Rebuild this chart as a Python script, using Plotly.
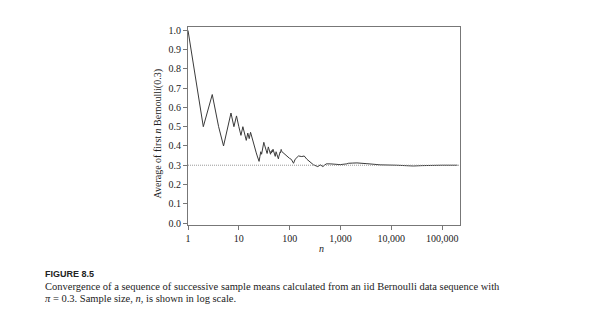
import plotly.graph_objects as go

# Running mean of Bernoulli(0.3) draws
n_values = list(range(1, 71)) + [
    79, 88, 99, 108, 115, 119, 128, 149, 173, 193, 218, 254, 294, 358, 400,
    450, 523, 625, 785, 985, 1330, 1430, 1700, 2100, 3300, 6000, 12600, 20000,
    27000, 40000, 57000, 100000, 200000]
mean_values = [
    1.000, 0.500, 0.667, 0.500, 0.400, 0.500, 0.571, 0.500, 0.556, 0.500,
    0.455, 0.500, 0.462, 0.429, 0.467, 0.438, 0.471, 0.444, 0.421, 0.400,
    0.381, 0.364, 0.348, 0.333, 0.320, 0.346, 0.370, 0.357, 0.379, 0.400,
    0.419, 0.406, 0.394, 0.382, 0.371, 0.361, 0.378, 0.395, 0.385, 0.375,
    0.366, 0.357, 0.372, 0.364, 0.378, 0.370, 0.383, 0.375, 0.367, 0.360,
    0.353, 0.346, 0.358, 0.370, 0.364, 0.357, 0.351, 0.345, 0.339, 0.333,
    0.344, 0.355, 0.349, 0.359, 0.369, 0.364, 0.373, 0.382, 0.377, 0.371,
    0.357, 0.345, 0.336, 0.330, 0.316, 0.310, 0.331, 0.348, 0.345, 0.348,
    0.331, 0.314, 0.302, 0.293, 0.302, 0.293, 0.307, 0.307, 0.305, 0.303,
    0.307, 0.310, 0.311, 0.312, 0.308, 0.302, 0.300, 0.297, 0.296, 0.298,
    0.300, 0.300, 0.300]
true_pi = 0.3

x_tickvals = [1, 10, 100, 1000, 10000, 100000]
x_ticktext = ["1", "10", "100", "1,000", "10,000", "100,000"]
y_tickvals = [i / 10 for i in range(11)]
y_ticktext = [f"{v:.1f}" for v in y_tickvals]

W, H = 599, 321
ML, MR, MT, MB = 188, 139, 27, 96
PW, PH = W - ML - MR, H - MT - MB

def px_x(x):
    return (x - ML) / PW

def px_y(y):
    return (H - MB - y) / PH

serif = "Liberation Serif, Times New Roman, serif"

fig = go.Figure()
fig.add_shape(type="line", xref="paper", yref="y", x0=0, x1=1,
              y0=true_pi, y1=true_pi,
              line=dict(color="#999999", width=1, dash="1px,1px"))
fig.add_trace(go.Scatter(x=n_values, y=mean_values, mode="lines",
                         line=dict(color="#3a3a3a", width=1),
                         showlegend=False, hoverinfo="skip"))

fig.update_layout(
    width=W, height=H,
    margin=dict(l=ML, r=MR, t=MT, b=MB),
    paper_bgcolor="white", plot_bgcolor="white",
    font=dict(family=serif, size=10, color="#222222"),
    xaxis=dict(type="log", range=[0, 5.35], tickvals=x_tickvals,
               ticktext=x_ticktext, showgrid=False, zeroline=False,
               showline=True, linecolor="#777777", linewidth=1, mirror=True,
               ticks="outside", ticklen=4, tickcolor="#777777",
               tickfont=dict(family=serif, size=10, color="#222222")),
    yaxis=dict(range=[-0.0104, 1.0177], tickvals=y_tickvals,
               ticktext=y_ticktext, showgrid=False, zeroline=False,
               showline=True, linecolor="#777777", linewidth=1, mirror=True,
               ticks="outside", ticklen=4, tickcolor="#777777",
               tickfont=dict(family=serif, size=10, color="#222222")),
)

annots = [
    dict(text="Average of first <i>n</i> Bernoulli(0.3)", x=px_x(157),
         y=px_y(133.5), textangle=-90, xanchor="center", yanchor="middle",
         font=dict(family=serif, size=10, color="#222222")),
    dict(text="<i>n</i>", x=px_x(321.7), y=px_y(249), xanchor="center",
         yanchor="middle", font=dict(family=serif, size=10, color="#222222")),
    dict(text="<b>FIGURE 8.5</b>", x=px_x(43), y=px_y(274), xanchor="left",
         yanchor="middle",
         font=dict(family="Liberation Sans, Arial, sans-serif", size=9,
                   color="#222222")),
    dict(text="Convergence of a sequence of successive sample means calculated "
              "from an iid Bernoulli data sequence with",
         x=px_x(43), y=px_y(286.5), xanchor="left", yanchor="middle",
         font=dict(family=serif, size=10.5, color="#222222")),
    dict(text="<i>π</i> = 0.3. Sample size, <i>n</i>, is shown in log scale.",
         x=px_x(43), y=px_y(298), xanchor="left", yanchor="middle",
         font=dict(family=serif, size=10.5, color="#222222")),
]
for a in annots:
    fig.add_annotation(xref="paper", yref="paper", showarrow=False, **a)

fig.write_html("out.html")
